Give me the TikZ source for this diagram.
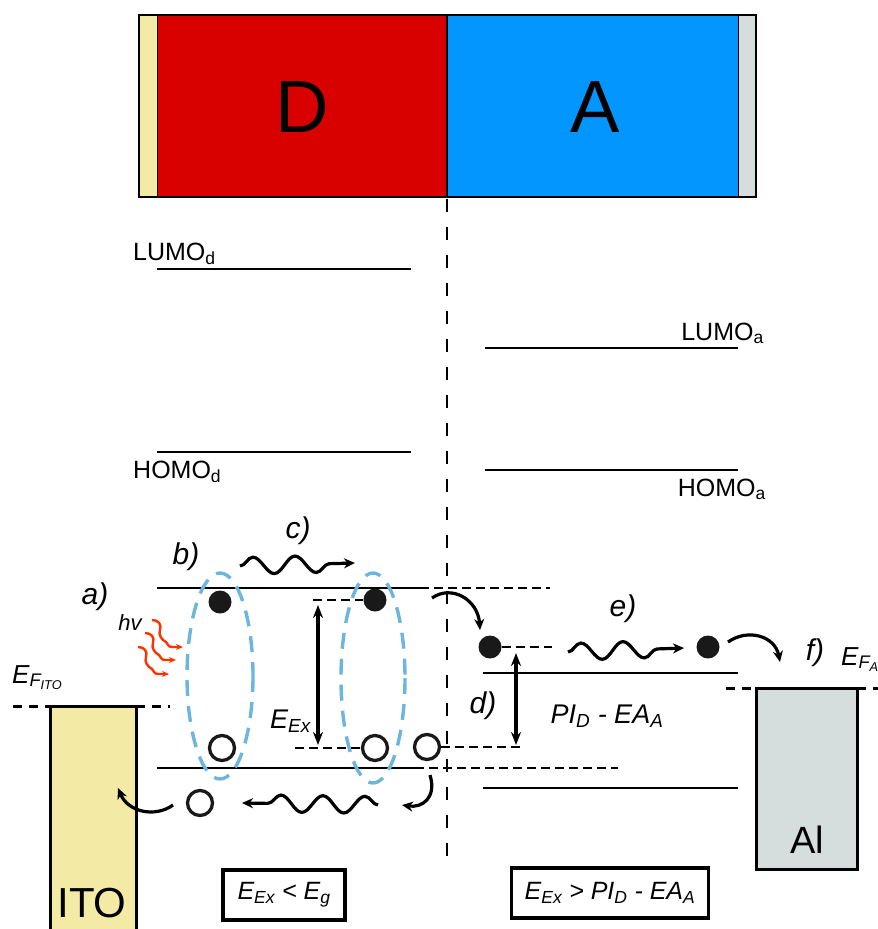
\documentclass[tikz,border=0pt]{standalone}
\usepackage{fontspec}
\setmainfont{Liberation Sans}
\usetikzlibrary{arrows.meta,decorations.pathmorphing}
\definecolor{itoY}{RGB}{243,234,166}
\definecolor{donR}{RGB}{217,0,0}
\definecolor{accB}{RGB}{3,150,254}
\definecolor{alG}{RGB}{214,222,221}
\definecolor{excB}{RGB}{108,182,222}
\definecolor{phR}{RGB}{255,51,0}
\begin{document}
\begin{tikzpicture}[x=1pt,y=-1pt,
  lvl/.style={line width=2.5pt},
  elec/.style={circle,fill=black!90,minimum size=23pt,inner sep=0pt},
  hole/.style={circle,draw=black!90,line width=3.3pt,minimum size=25pt,inner sep=0pt},
  vdash/.style={line width=2pt,dash pattern=on 13pt off 15pt},
  hdash/.style={line width=2pt,dash pattern=on 9pt off 5pt},
  efdash/.style={line width=3pt,dash pattern=on 9pt off 7pt},
  exc/.style={draw=excB,line width=3.4pt,dash pattern=on 16pt off 10pt},
  tipa/.style={-{Stealth[length=11pt,width=10pt]}},
  curv/.style={line width=3.2pt,tipa},
  wavy/.style={line width=3.2pt,tipa,decorate,decoration={snake,amplitude=8.5pt,segment length=42pt,post length=10pt}},
  dbl/.style={line width=3.2pt,{Stealth[length=13pt,width=10pt]}-{Stealth[length=13pt,width=10pt]}},
  lbl/.style={font=\fontsize{25}{30}\selectfont,inner sep=0pt},
  itl/.style={font=\fontsize{30}{34}\selectfont\itshape,inner sep=0pt},
  bigl/.style={font=\fontsize{74}{80}\selectfont,inner sep=0pt},
  cond/.style={draw,line width=3.4pt,minimum width=122pt,minimum height=50pt,inner sep=0pt,font=\fontsize{25}{29}\selectfont\itshape}
]
\useasboundingbox (0,0) rectangle (878,929);
% top bar
\fill[itoY] (139,15) rectangle (157,197);
\fill[donR] (157,15) rectangle (447,197);
\fill[accB] (447,15) rectangle (738,197);
\fill[alG] (738,15) rectangle (756,197);
\draw[line width=1pt] (157,15) -- (157,197) (738,15) -- (738,197);
\draw[line width=2pt] (139,15) rectangle (756,197);
\draw[line width=2pt] (447,15) -- (447,197);
\node[bigl] (D) at (302,107) {D};
\node[bigl] (A) at (595,107) {A};
% interface line
\draw[vdash] (447,199) -- (447,868);
% upper levels
\draw[lvl] (157,269) -- (411,269);
\draw[lvl] (157,452) -- (411,452);
\draw[lvl] (485,348) -- (738,348);
\draw[lvl] (485,470) -- (738,470);
\node[lbl,anchor=base west] (lumod) at (133,260) {LUMO\textsubscript{d}};
\node[lbl,anchor=base west] (homod) at (133,478) {HOMO\textsubscript{d}};
\node[lbl,anchor=base east] (lumoa) at (764,340) {LUMO\textsubscript{a}};
\node[lbl,anchor=base east] (homoa) at (766,496) {HOMO\textsubscript{a}};
% lower levels
\draw[lvl] (157,588) -- (420,588);
\draw[hdash] (420,588) -- (550,588);
\draw[lvl] (157,768) -- (415,768);
\draw[hdash] (415,768) -- (618,768);
\draw[lvl] (483,673) -- (738,673);
\draw[lvl] (483,788) -- (738,788);
% ITO electrode
\fill[itoY] (50,706) rectangle (136,929);
\draw[line width=3pt] (50,929) -- (50,706) -- (136,706) -- (136,929);
\draw[efdash] (13,706) -- (50,706) (136,706) -- (170,706);
\node[font=\fontsize{42}{46}\selectfont,inner sep=0pt] (ito) at (92,903) {ITO};
\node[font=\fontsize{26}{30}\selectfont\itshape,inner sep=0pt,anchor=base west] (efi) at (12,683) {E\textsubscript{F\textsubscript{ITO}}};
% Al electrode
\draw[fill=alG,line width=3pt] (756,688) rectangle (857,869);
\draw[efdash] (726,688) -- (756,688) (857,688) -- (880,688);
\node[font=\fontsize{38}{42}\selectfont,inner sep=0pt] (al) at (807,840) {Al};
\node[font=\fontsize{26}{30}\selectfont\itshape,inner sep=0pt,anchor=base west] (efa) at (841,665) {E\textsubscript{F\textsubscript{A}}};
% exciton ellipses
\draw[exc] (220,676) ellipse [x radius=33, y radius=103];
\draw[exc] (373,678) ellipse [x radius=32, y radius=105];
% charges
\node[elec] (e1) at (220,602) {};
\node[elec] (e2) at (375,600) {};
\node[elec] (e3) at (490,647) {};
\node[elec] (e4) at (708,647) {};
\node[hole] (h1) at (222,748) {};
\node[hole] (h2) at (375,748) {};
\node[hole] (h3) at (427,747) {};
\node[hole] (h4) at (200,803) {};
% dashed markers
\coordinate (exT) at (313,600);
\coordinate (exB) at (295,748);
\coordinate (dT) at (552,647);
\coordinate (dB) at (523,747);
\draw[hdash] (exT) -- (e2.west);
\draw[hdash] (exB) -- (h2.west);
\draw[hdash] (e3.east) -- (dT);
\draw[hdash] (h3.east) -- (dB);
% energy arrows
\coordinate (a1) at (318,605);
\coordinate (a2) at (318,745);
\draw[dbl] (a1) -- (a2);
\coordinate (b1) at (516,653);
\coordinate (b2) at (516,745);
\draw[dbl] (b1) -- (b2);
\node[font=\fontsize{27}{30}\selectfont\itshape,inner sep=0pt,anchor=base west] (eex) at (270,728) {E\textsubscript{Ex}};
\node[font=\fontsize{27}{30}\selectfont\itshape,inner sep=0pt] (pied) at (607,716) {PI\textsubscript{D} - EA\textsubscript{A}};
% step labels
\node[itl] (la) at (95,597) {a)};
\node[font=\fontsize{22}{26}\selectfont\itshape,inner sep=0pt] (hv) at (130,623) {hv};
\node[itl] (lb) at (186,557) {b)};
\node[itl] (lc) at (298,531) {c)};
\node[itl] (ld) at (483,706) {d)};
\node[itl] (le) at (623,609) {e)};
\node[itl] (lf) at (815,653) {f)};
% photons
\foreach \sx/\sy in {152/620,145/633,138/647}{
  \begin{scope}[shift={(\sx,\sy)}]
    \draw[phR,line width=2.4pt,-{Stealth[length=7pt,width=6pt]}] (0,0) .. controls (6,0) and (10,4) .. (8,10) .. controls (6,15) and (10,20) .. (14,22) .. controls (16,24) and (16,27) .. (20,27) -- (31,27);
  \end{scope}
}
% transport arrows
\coordinate (c1) at (240,566);
\coordinate (c2) at (355,563);
\draw[wavy] (c1) -- (c2);
\coordinate (w1) at (568,652);
\coordinate (w2) at (684,648);
\draw[wavy] (w1) -- (w2);
\coordinate (g1) at (378,805);
\coordinate (g2) at (242,803);
\draw[wavy,decoration={mirror}] (g1) -- (g2);
\coordinate (i1) at (432,598);
\coordinate (i2) at (480,630);
\draw[curv] (i1) .. controls (452,584) and (478,600) .. (i2);
\coordinate (f1) at (728,642);
\coordinate (f2) at (780,662);
\draw[curv] (f1) .. controls (748,628) and (775,636) .. (f2);
\coordinate (k1) at (430,775);
\coordinate (k2) at (402,805);
\draw[curv] (k1) .. controls (437,798) and (422,808) .. (k2);
\coordinate (m1) at (173,805);
\coordinate (m2) at (118,788);
\draw[curv] (m1) .. controls (155,818) and (128,812) .. (m2);
% condition boxes
\node[cond] (box1) at (284,895) {E\textsubscript{Ex} < E\textsubscript{g}};
\node[cond,minimum width=197pt] (box2) at (610,893) {E\textsubscript{Ex} > PI\textsubscript{D} - EA\textsubscript{A}};
\end{tikzpicture}
\end{document}
